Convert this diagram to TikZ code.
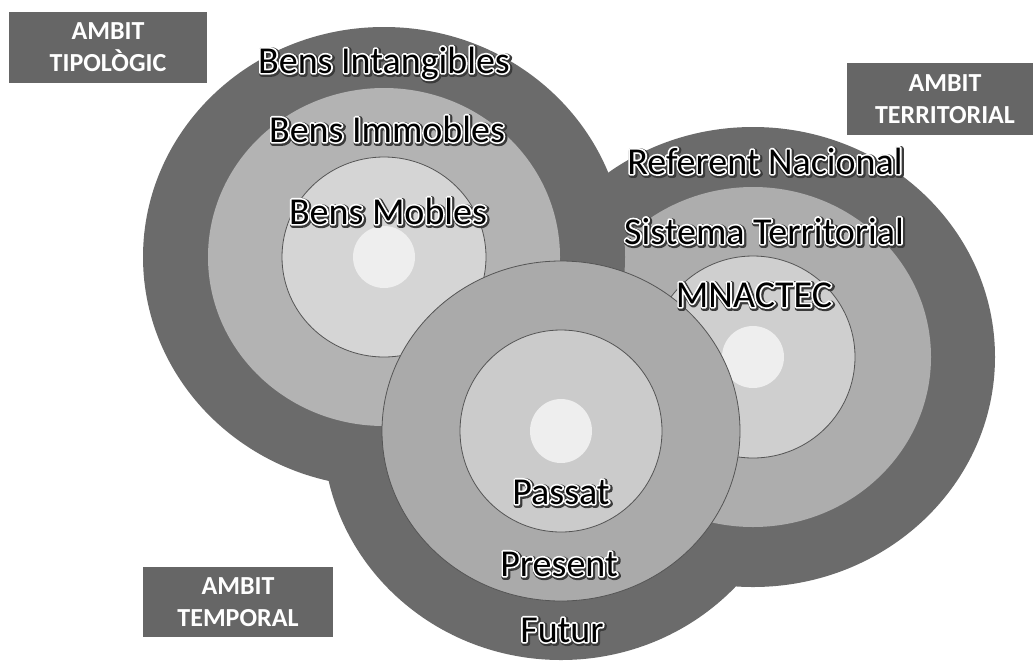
\documentclass[tikz,border=0pt]{standalone}
\usepackage{fontspec}
\setmainfont{Carlito}
\usetikzlibrary{calc}
\definecolor{outerc}{HTML}{6B6B6B}
\definecolor{midc}{HTML}{B3B3B3}
\definecolor{innc}{HTML}{D5D5D5}
\definecolor{rmidc}{HTML}{ADADAD}
\definecolor{rinnc}{HTML}{CFCFCF}
\definecolor{dotc}{HTML}{EEEEEE}
\definecolor{bmidc}{HTML}{AAAAAA}
\definecolor{binnc}{HTML}{CBCBCB}
\definecolor{boxc}{HTML}{666666}
\definecolor{edgec}{HTML}{555555}
\definecolor{shadc}{HTML}{3A3A3A}
\newcommand\strokedtext[3]{\special{pdf:literal direct #1 w 1 j 1 Tr}\textcolor{#2}{#3}\special{pdf:literal direct 0 Tr 0.4 w 0 j}}
\tikzset{
  lbl/.style={font=\fontsize{38}{40}\selectfont, anchor=base, inner sep=0pt, text=black},
  ambit/.style={fill=boxc, text=white, font=\bfseries\fontsize{26}{32}\selectfont,
     align=center, inner sep=0pt},
  ringedge/.style={draw=edgec, line width=0.8pt}
}
\newcommand\glowlabel[3]{%
  \node[lbl] (#1s) at ($(#2)+(1.2,1.2)$) {\strokedtext{5.5}{shadc}{#3}};
  \node[lbl] (#1w) at (#2) {\strokedtext{3.4}{white}{#3}};
  \node[lbl] (#1) at (#2) {#3};
}
\begin{document}
\begin{tikzpicture}[x=1pt,y=-1pt]
\useasboundingbox (0,0) rectangle (1033,662);
\fill[white] (0,0) rectangle (1033,662);
\coordinate (L) at (384,257);
\coordinate (R) at (753,357);
\coordinate (B) at (561,431);

% temporal outer ring (lowest)
\fill[outerc] (B) ellipse [x radius=238, y radius=229];

% territorial group
\fill[outerc] (R) ellipse [x radius=242, y radius=230];
\fill[rmidc] (R) ellipse [x radius=178, y radius=170];
\fill[rinnc, ringedge] (R) ellipse [x radius=102, y radius=101];
\fill[dotc] (R) circle [radius=31];

% tipologic group
\fill[outerc] (L) ellipse [x radius=241, y radius=230];
\fill[midc] (L) ellipse [x radius=176, y radius=169];
\fill[innc, ringedge] (L) ellipse [x radius=102, y radius=100];
\fill[dotc] (L) circle [radius=31];

% temporal inner rings (top)
\fill[bmidc, ringedge] (B) ellipse [x radius=179, y radius=170];
\fill[binnc, ringedge] (B) ellipse [x radius=101, y radius=101];
\fill[dotc] (B) ellipse [x radius=31, y radius=32];

% boxes
\node[ambit, minimum width=198pt, minimum height=71pt] (tip) at (108,47.5) {AMBIT\\TIPOLÒGIC};
\node[ambit, minimum width=196pt, minimum height=72pt] (ter) at (945,99) {AMBIT\\TERRITORIAL};
\node[ambit, minimum width=190pt, minimum height=70pt] (tem) at (238,602) {AMBIT\\TEMPORAL};

% labels
\glowlabel{bi}{384,73}{Bens Intangibles}
\glowlabel{bim}{387,142}{Bens Immobles}
\glowlabel{bm}{388,224}{Bens Mobles}
\glowlabel{rn}{765,174}{Referent Nacional}
\glowlabel{st}{764,244}{Sistema Territorial}
\glowlabel{mn}{754,307}{MNACTEC}
\glowlabel{pa}{561,504}{Passat}
\glowlabel{pr}{559,576}{Present}
\glowlabel{fu}{562,642}{Futur}
\end{tikzpicture}
\end{document}
